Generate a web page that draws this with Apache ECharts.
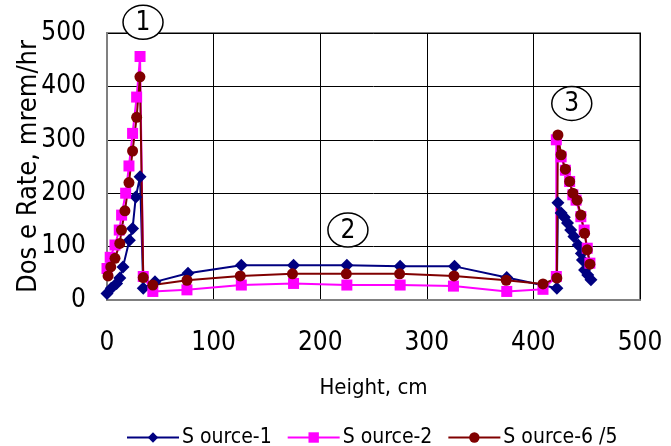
<!DOCTYPE html>
<html>
<head>
<meta charset="utf-8">
<script src="https://cdn.jsdelivr.net/npm/echarts@6/dist/echarts.min.js"></script>
<style>html,body{margin:0;padding:0;background:#fff;}#c{width:671px;height:446px;}</style>
</head>
<body>
<div id="c"></div>
<script>
// Source-1 (height cm, dose rate)
const s1X = [0,4,9,12,15,21,24,27,31,34,45,76,126,175,225,275,326,375,422,423,426,429,432,435,438,442,445,446,448,451,454];
const s1Y = [12,22,31,41,62,112,134,193,231,22,34,50,65,65,65,63,63,42,22,182,163,155,144,131,119,103,87,75,56,47,38];
// Source-2
const s2X = [0,3,7.5,11.5,13.7,17.5,20.6,24,27.8,31,34,43,75,126,175,225,275,325,375,409,421.5,421.5,426,430,434,437,440,444.5,447.6,450.5,453];
const s2Y = [59,80,103,131,159,200,251,312,380,456,44,16,19,28,31,28,28,26,16,20,44,300,268,243,222,197,187,156,131,97,69];
// Source-6/5
const s3X = [1,3.5,7.5,12,13.6,16.8,20.6,24,27.8,30.9,34,43,75,125,174,224.5,274.5,325.5,374.5,409,422,423,426,430,434,437,441,444.5,448,450.5,453];
const s3Y = [45,62,78,106,131,167,220,279,342,418,42,28,37,45,49,49,49,45,37,30,41,309,272,245,222,200,187,159,125,94,67];
const seriesNames = ['S ource-1','S ource-2','S ource-6 /5'];
const xTicks = [0,100,200,300,400,500];
const yTicks = [0,100,200,300,400,500];
// circled annotation labels at data coordinates
const notes = [{t:'1', x:33.8, y:520}, {t:'2', x:226, y:131}, {t:'3', x:436, y:368}];

const F = "'DejaVu Sans Condensed', 'Liberation Sans', sans-serif";
const zip = (a,b) => a.map((v,i)=>[v,b[i]]);
const chart = echarts.init(document.getElementById('c'), null, {renderer:'canvas'});
const mk = (name, xs, ys, color, symbol, size) => ({
  name, type:'line', data: zip(xs,ys), color,
  symbol, symbolSize: size, showSymbol:true,
  lineStyle:{width:2, color}, itemStyle:{color},
  animation:false
});
chart.setOption({
  animation:false,
  grid:{left:107, right:31, top:33, bottom:146, containLabel:false, outerBoundsMode:'none',
        show:true, borderColor:'#808080', borderWidth:2},
  legend:{
    top:427, left:126, padding:0, itemWidth:52, itemHeight:13, itemGap:15,
    textStyle:{fontFamily:F, fontSize:21, color:'#000', padding:[0,0,0,-2]},
    data: seriesNames
  },
  xAxis:{
    type:'value', min:0, max:500, interval:100,
    name:'Height, cm', nameLocation:'middle', nameGap:77, nameMoveOverlap:false,
    nameTextStyle:{fontFamily:F, fontSize:22, color:'#000'},
    axisLine:{show:true, lineStyle:{color:'#808080', width:2}},
    axisTick:{show:false},
    axisLabel:{fontFamily:F, fontSize:26, color:'#000', margin:30,
      formatter: v => xTicks.includes(v) ? String(v) : ''},
    splitLine:{show:true, lineStyle:{color:'#000', width:1}}
  },
  yAxis:{
    type:'value', min:0, max:500, interval:100,
    name:'Dos e Rate, mrem/hr', nameLocation:'middle', nameGap:65, nameMoveOverlap:false,
    nameTextStyle:{fontFamily:F, fontSize:27, color:'#000'},
    axisLine:{show:true, lineStyle:{color:'#808080', width:2}},
    axisTick:{show:false},
    axisLabel:{fontFamily:F, fontSize:26, color:'#000', margin:21,
      formatter: v => yTicks.includes(v) ? String(v) : ''},
    splitLine:{show:true, lineStyle:{color:'#000', width:1}}
  },
  series:[
    mk(seriesNames[0], s1X, s1Y, '#000080', 'diamond', 13),
    mk(seriesNames[1], s2X, s2Y, '#ff00ff', 'rect', 11),
    mk(seriesNames[2], s3X, s3Y, '#800000', 'circle', 11)
  ]
});
const g = notes.map(n => {
  const p = chart.convertToPixel({gridIndex:0}, [n.x, n.y]);
  return {
    type:'group', x:p[0], y:p[1], children:[
      {type:'ellipse', shape:{cx:0, cy:0, rx:20, ry:17}, style:{fill:'#fff', stroke:'#000', lineWidth:1.5}},
      {type:'text', style:{text:n.t, x:0, y:1, align:'center', verticalAlign:'middle', font:"26px "+F, fill:'#000'}}
    ]
  };
});
chart.setOption({graphic:g});
</script>
</body>
</html>
